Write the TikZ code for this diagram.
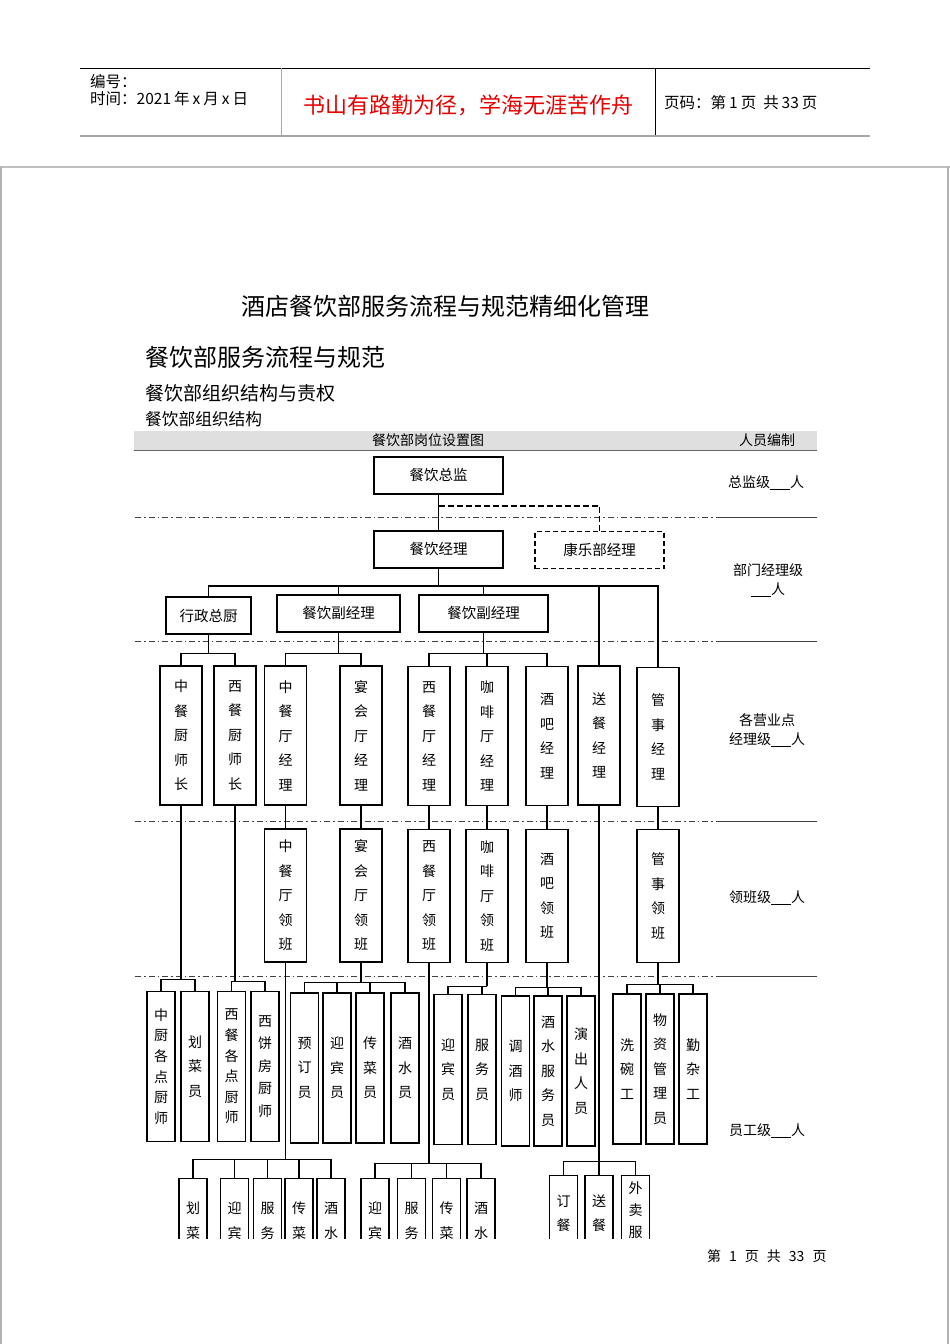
\documentclass[tikz,border=0pt]{standalone}
\usepackage{fontspec}
\setmainfont{Noto Sans CJK SC}
\usepackage{xcolor}

\newcommand{\fillin}{\underline{\hspace{20pt}}}

\begin{document}
\begin{tikzpicture}[
    x=1pt, y=-1pt,
    conn/.style={draw=black, line width=1.1pt},
    posbox/.style={rectangle, draw=black, line width=1.1pt, minimum width=129pt, minimum height=37pt, inner sep=2pt, font=\fontsize{14.5}{18}\selectfont},
    mgr/.style={rectangle, draw=black, line width=1.1pt, minimum width=42pt, minimum height=139pt, inner sep=2pt, align=center, font=\fontsize{14}{24.5}\selectfont},
    lead/.style={mgr, minimum height=133pt},
    staff/.style={mgr, minimum width=28pt, minimum height=150pt},
    cutbox/.style={mgr, minimum width=28pt, anchor=north},
    levelline/.style={draw=black!75, line width=0.8pt, dash pattern=on 6pt off 3pt on 1.5pt off 3pt},
    lvl/.style={font=\fontsize{14}{19}\selectfont, align=center, inner sep=0pt},
    heading/.style={font=\fontsize{#1}{#1}\selectfont, anchor=west, inner sep=0pt}
]
    \useasboundingbox (0,0) rectangle (950,1344);

    \draw[line width=0.8pt] (80,68) -- (870,68);
    \draw[gray!70, line width=2pt] (80,135.5) -- (870,135.5);
    \draw[gray!70, line width=1pt] (281,68) -- (281,135);
    \draw[line width=0.8pt] (655,68) -- (655,135);
    \node[heading=15.5] (number) at (90,82) {编号：};
    \node[heading=15.5] (date) at (90,99) {时间：2021\hspace{3pt}年\hspace{3pt}x\hspace{3pt}月\hspace{3pt}x\hspace{3pt}日};
    \node[font=\fontsize{22}{22}\selectfont, text=red!90!black] (motto) at (468,105) {书山有路勤为径，学海无涯苦作舟};
    \node[heading=15.5] (pageno) at (664,103) {页码：第\hspace{3pt}1\hspace{3pt}页\ \ 共\hspace{3pt}33\hspace{3pt}页};

    \draw[gray!50, line width=2pt] (0,167) -- (950,167);
    \draw[gray!60, line width=1.2pt] (1,167) -- (1,1344);
    \draw[gray!60, line width=1.2pt] (948,167) -- (948,1344);

    \node[font=\fontsize{24}{24}\selectfont] (title) at (445,306) {酒店餐饮部服务流程与规范精细化管理};
    \node[heading=24] (sec) at (145,357) {餐饮部服务流程与规范};
    \node[heading=19] (subsec) at (145,393) {餐饮部组织结构与责权};
    \node[heading=16.7] (subsubsec) at (145,419) {餐饮部组织结构};

    \fill[gray!25] (134,431) rectangle (817,450);
    \draw[black!60, line width=0.8pt] (134,450) -- (817,450);
    \node[font=\fontsize{14}{14}\selectfont] (chart) at (428,440) {餐饮部岗位设置图};
    \node[font=\fontsize{14}{14}\selectfont] (staffing) at (767,440) {人员编制};

    \foreach \y in {517, 641, 821, 976} {
        \draw[levelline] (135,\y) -- (719,\y);
        \draw[black!75, line width=1pt] (719,\y) -- (817,\y);
    }

    \node[lvl] (lv1) at (766,483) {总监级\fillin 人};
    \node[lvl] (lv2) at (768,580) {部门经理级\\\fillin 人};
    \node[lvl] (lv3) at (767,730.5) {各营业点\\经理级\fillin 人};
    \node[lvl] (lv4) at (767,898) {领班级\fillin 人};
    \node[lvl] (lv5) at (767,1131) {员工级\fillin 人};

    \node[posbox] (zj) at (438.5,475.5) {餐饮总监};
    \node[posbox] (jl) at (438.5,549.5) {餐饮经理};
    \node[posbox, dash pattern=on 5pt off 3pt] (kl) at (599.5,550) {康乐部经理};
    \node[posbox, minimum width=85pt] (xz) at (208.5,615.5) {行政总厨};
    \node[posbox, minimum width=123pt] (fj1) at (338.5,613.5) {餐饮副经理};
    \node[posbox] (fj2) at (483.5,613.5) {餐饮副经理};

    \node[mgr] (zccs) at (181,735.5) {中\\餐\\厨\\师\\长};
    \node[mgr] (xccs) at (235,735.5) {西\\餐\\厨\\师\\长};
    \node[mgr] (zcjl) at (285.5,735.5) {中\\餐\\厅\\经\\理};
    \node[mgr] (yhjl) at (361,735.5) {宴\\会\\厅\\经\\理};
    \node[mgr] (xcjl) at (429,736) {西\\餐\\厅\\经\\理};
    \node[mgr] (kfjl) at (487,736) {咖\\啡\\厅\\经\\理};
    \node[mgr] (jbjl) at (547,736) {酒\\吧\\经\\理};
    \node[mgr] (scjl) at (599,735.5) {送\\餐\\经\\理};
    \node[mgr] (gsjl) at (658,737) {管\\事\\经\\理};

    \node[lead] (zclb) at (285.5,895.5) {中\\餐\\厅\\领\\班};
    \node[lead] (yhlb) at (361,895.5) {宴\\会\\厅\\领\\班};
    \node[lead] (xclb) at (429,896) {西\\餐\\厅\\领\\班};
    \node[lead] (kflb) at (487,896) {咖\\啡\\厅\\领\\班};
    \node[lead] (jblb) at (547,896) {酒\\吧\\领\\班};
    \node[lead] (gslb) at (658,896) {管\\事\\领\\班};

    \node[staff, font=\fontsize{14}{20.6}\selectfont] (zcds) at (161,1066.5) {中\\厨\\各\\点\\厨\\师};
    \node[staff] (hcy) at (195,1066.5) {划\\菜\\员};
    \node[staff, font=\fontsize{14}{20.6}\selectfont] (xcds) at (231.5,1066.5) {西\\餐\\各\\点\\厨\\师};
    \node[staff, font=\fontsize{14}{22.5}\selectfont] (xbf) at (265,1066.5) {西\\饼\\房\\厨\\师};
    \node[staff] (ydy) at (304.5,1068) {预\\订\\员};
    \node[staff] (ybyz) at (337,1068) {迎\\宾\\员};
    \node[staff] (ccyz) at (370,1068) {传\\菜\\员};
    \node[staff] (jsyz) at (405,1068) {酒\\水\\员};
    \node[staff] (ybyx) at (448,1069.5) {迎\\宾\\员};
    \node[staff] (fwyx) at (482,1069.5) {服\\务\\员};
    \node[staff] (tjs) at (515.5,1071) {调\\酒\\师};
    \node[staff] (jsfw) at (548,1071) {酒\\水\\服\\务\\员};
    \node[staff] (ycry) at (581,1071) {演\\出\\人\\员};
    \node[staff] (xwg) at (627,1069) {洗\\碗\\工};
    \node[staff] (wzgl) at (660,1069) {物\\资\\管\\理\\员};
    \node[staff] (qzg) at (693,1069) {勤\\杂\\工};

    \draw[conn] (zj) -- (jl);
    \coordinate (zjm) at (438.5,506);
    \draw[conn, dash pattern=on 6pt off 3pt] (zjm) -| (kl.north);
    \coordinate (bus) at (438.5,586);
    \draw[conn] (jl) -- (bus);
    \foreach \n in {xz, fj1, fj2, scjl, gsjl}
        \draw[conn] (\n.north) |- (bus);

    \draw[conn] (xz.south) -- ++(0,19) coordinate (xzb);
    \draw[conn] (zccs.north) |- (xzb) -| (xccs.north);
    \draw[conn] (fj1.south) -- ++(0,21) coordinate (fj1b);
    \draw[conn] (zcjl.north) |- (fj1b) -| (yhjl.north);
    \draw[conn] (fj2.south) -- ++(0,21) coordinate (fj2b);
    \draw[conn] (xcjl.north) |- (fj2b) -| (jbjl.north);
    \draw[conn] (kfjl.north) |- (fj2b);

    \foreach \a/\b in {zcjl/zclb, yhjl/yhlb, xcjl/xclb, kfjl/kflb, jbjl/jblb, gsjl/gslb}
        \draw[conn] (\a) -- (\b);

    \draw[conn] (zccs.south) -- ++(0,174) coordinate (ab);
    \draw[conn] (zcds.north) |- (ab) -| (hcy.north);
    \draw[conn] (xccs.south) -- ++(0,176) coordinate (bb);
    \draw[conn] (xcds.north) |- (bb) -| (xbf.north);
    \draw[conn] (yhlb.south) -- ++(0,20) coordinate (cb);
    \draw[conn] (ydy.north) |- (cb) -| (jsyz.north);
    \draw[conn] (ybyz.north) |- (cb);
    \draw[conn] (ccyz.north) |- (cb);
    \draw[conn] (kflb.south) -- ++(0,23) coordinate (db);
    \draw[conn] (ybyx.north) |- (db) -| (fwyx.north);
    \draw[conn] (jblb.south) -- ++(0,24) coordinate (eb);
    \draw[conn] (tjs.north) |- (eb) -| (ycry.north);
    \draw[conn] (jsfw.north) |- (eb);
    \draw[conn] (gslb.south) -- ++(0,21) coordinate (fb);
    \draw[conn] (xwg.north) |- (fb) -| (qzg.north);
    \draw[conn] (wzgl.north) |- (fb);

    \draw[conn] (zclb.south) -- ++(0,197) coordinate (gb);
    \draw[conn] (xclb.south) -- ++(0,200) coordinate (hb);
    \draw[conn] (scjl.south) -- ++(0,356) coordinate (kb);

    \begin{scope}
        \clip (120,1150) rectangle (830,1238);
        \node[cutbox, minimum height=84.5pt] (a1) at (193,1178) {划\\菜};
        \node[cutbox, minimum height=84.5pt] (a2) at (234.5,1178) {迎\\宾};
        \node[cutbox, minimum height=84.5pt] (a3) at (267.5,1178) {服\\务};
        \node[cutbox, minimum height=84.5pt] (a4) at (299,1178) {传\\菜};
        \node[cutbox, minimum height=84.5pt] (a5) at (331,1178) {酒\\水};
        \node[cutbox, minimum height=84.5pt] (b1) at (375,1178) {迎\\宾};
        \node[cutbox, minimum height=84.5pt] (b2) at (411.5,1178) {服\\务};
        \node[cutbox, minimum height=84.5pt] (b3) at (446.5,1178) {传\\菜};
        \node[cutbox, minimum height=84.5pt] (b4) at (481,1178) {酒\\水};
        \node[cutbox, minimum height=75pt] (c1) at (563.5,1175) {订\\餐};
        \node[cutbox, minimum height=75pt] (c2) at (599,1175) {送\\餐};
        \node[cutbox, minimum height=70pt, font=\fontsize{14}{22}\selectfont] (c3) at (635.5,1175) {外\\卖\\服};

        \draw[conn] (a1.north) |- (gb) -| (a5.north);
        \foreach \n in {a2, a3, a4}
            \draw[conn] (\n.north) |- (gb);
        \draw[conn] (b1.north) |- (hb) -| (b4.north);
        \foreach \n in {b2, b3}
            \draw[conn] (\n.north) |- (hb);
        \draw[conn] (c1.north) |- (kb) -| (c3.north);
        \draw[conn] (c2.north) |- (kb);
    \end{scope}

    \node[heading=14] (footer) at (707,1256) {第\hspace{8pt}1\hspace{8pt}页\hspace{8pt}共\hspace{8pt}33\hspace{8pt}页};
\end{tikzpicture}
\end{document}
